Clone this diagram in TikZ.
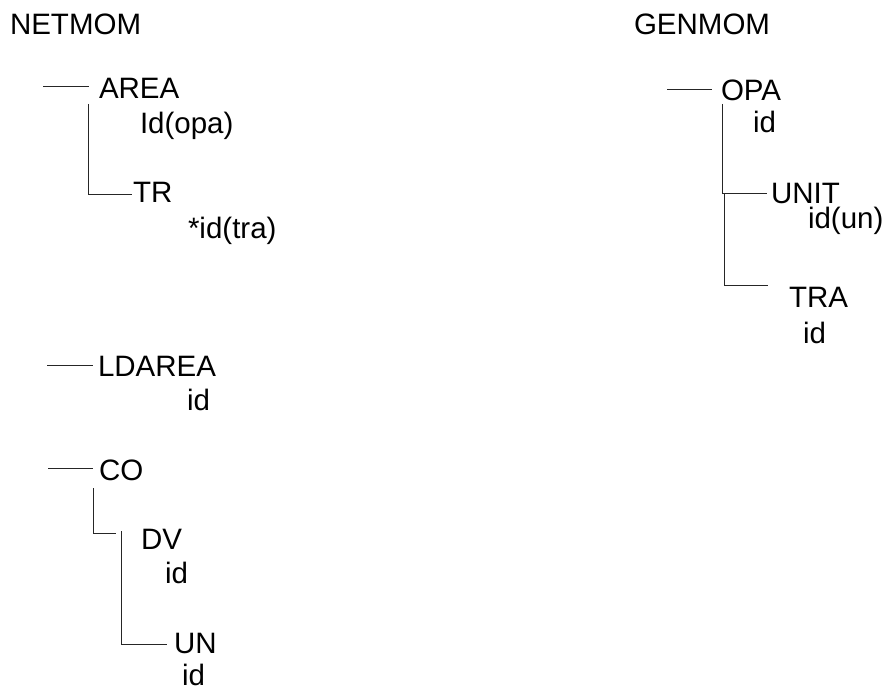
\documentclass[tikz,border=0pt]{standalone}
\usepackage{fontspec}
\setmainfont{Liberation Sans}
\begin{document}
\begin{tikzpicture}[x=1pt,y=-1pt,
  lbl/.style={anchor=base west,inner sep=0pt,outer sep=0pt,font=\fontsize{29.5}{34}\selectfont},
  tline/.style={draw=black!85,line width=1pt}]
\useasboundingbox (0,0) rectangle (890,690);
% NETMOM tree
\node[lbl] (netmom) at (10,35) {NETMOM};
\node[lbl] (area) at (99,99) {AREA};
\node[lbl] (areaid) at (140,133) {Id(opa)};
\node[lbl] (tr) at (133,202) {TR};
\node[lbl] (trid) at (188,238) {*id(tra)};
\node[lbl] (ldarea) at (98,376) {LDAREA};
\node[lbl] (ldid) at (187,410) {id};
\node[lbl] (co) at (99,480) {CO};
\node[lbl] (dv) at (141,549) {DV};
\node[lbl] (dvid) at (165,583) {id};
\node[lbl] (un) at (174,653) {UN};
\node[lbl] (unid) at (182,685) {id};
% GENMOM tree
\node[lbl] (genmom) at (634,35) {GENMOM};
\node[lbl] (opa) at (721,100) {OPA};
\node[lbl] (opaid) at (753,132) {id};
\node[lbl] (unit) at (771,203) {UNIT};
\node[lbl] (unitid) at (808,228) {id(un)};
\node[lbl] (tra) at (789,307) {TRA};
\node[lbl] (traid) at (803,343) {id};
% connector coordinates
\coordinate (a0) at (43,87);   \coordinate (a1) at (89,87);
\coordinate (a2) at (88,104);  \coordinate (a3) at (88,194); \coordinate (a4) at (132,194);
\coordinate (l0) at (47,365);  \coordinate (l1) at (93,365);
\coordinate (c0) at (48,468);  \coordinate (c1) at (93,468);
\coordinate (c2) at (93,488);  \coordinate (c3) at (93,533); \coordinate (c4) at (116,533);
\coordinate (c5) at (121,531); \coordinate (c6) at (121,644); \coordinate (c7) at (167,644);
\coordinate (o0) at (667,90);  \coordinate (o1) at (712,90);
\coordinate (o2) at (722,104); \coordinate (o3) at (722,193); \coordinate (o4) at (767,193);
\coordinate (o5) at (724,193); \coordinate (o6) at (724,285); \coordinate (o7) at (768,285);
\draw[tline] (a0) -- (a1);
\draw[tline] (a2) -- (a3) -- (a4);
\draw[tline] (l0) -- (l1);
\draw[tline] (c0) -- (c1);
\draw[tline] (c2) -- (c3) -- (c4);
\draw[tline] (c5) -- (c6) -- (c7);
\draw[tline] (o0) -- (o1);
\draw[tline] (o2) -- (o3) -- (o4);
\draw[tline] (o5) -- (o6) -- (o7);
\end{tikzpicture}
\end{document}
